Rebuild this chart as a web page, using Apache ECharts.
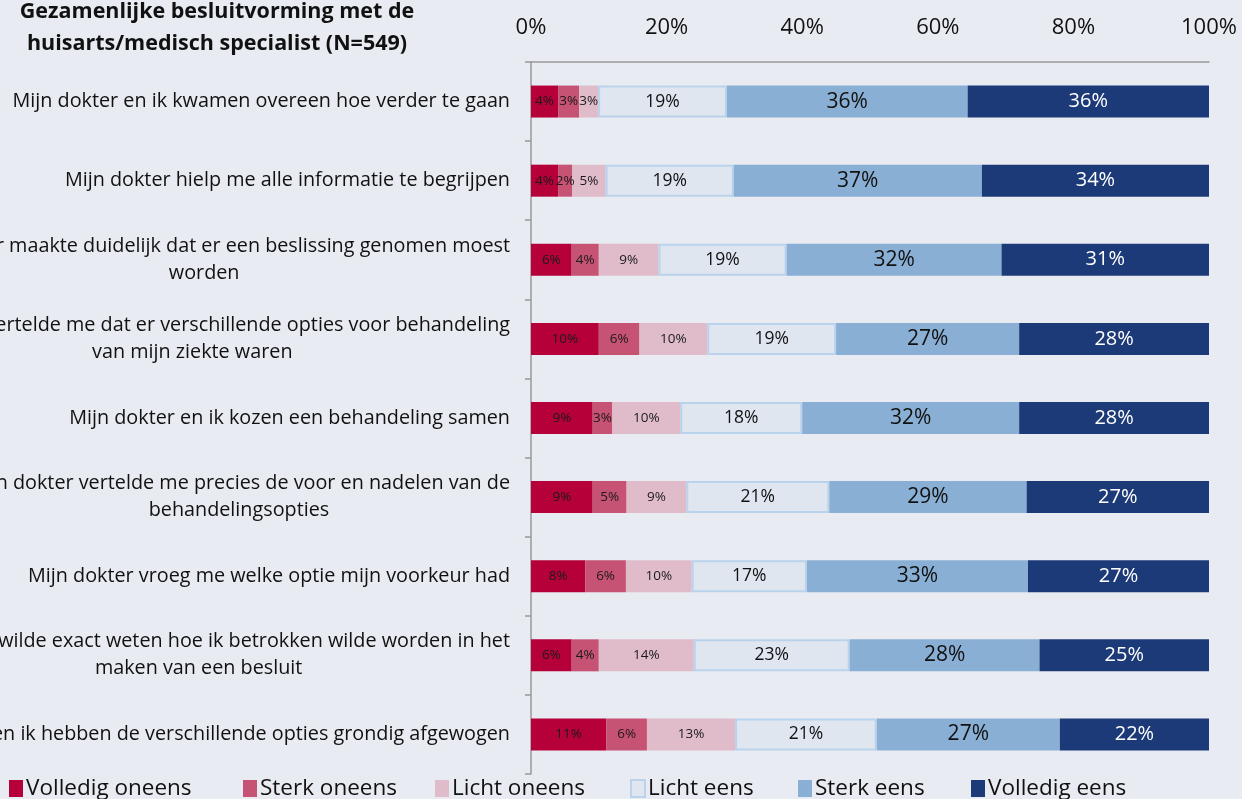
<!DOCTYPE html>
<html>
<head>
<meta charset="utf-8">
<script src="https://cdn.jsdelivr.net/npm/echarts@6/dist/echarts.min.js"></script>
<style>
  html, body { margin: 0; padding: 0; background: #e8ebf2; }
  #chart { width: 1242px; height: 799px; }
</style>
</head>
<body>
<div id="chart"></div>
<script>
// statements, top to bottom
const statements = [
  "Mijn dokter en ik kwamen overeen hoe verder te gaan",
  "Mijn dokter hielp me alle informatie te begrijpen",
  "Mijn dokter maakte duidelijk dat er een beslissing genomen moest\nworden",
  "Mijn dokter vertelde me dat er verschillende opties voor behandeling\nvan mijn ziekte waren",
  "Mijn dokter en ik kozen een behandeling samen",
  "Mijn dokter vertelde me precies de voor en nadelen van de\nbehandelingsopties",
  "Mijn dokter vroeg me welke optie mijn voorkeur had",
  "Mijn dokter wilde exact weten hoe ik betrokken wilde worden in het\nmaken van een besluit",
  "Mijn dokter en ik hebben de verschillende opties grondig afgewogen"
];

const seriesNames = ["Volledig oneens", "Sterk oneens", "Licht oneens", "Licht eens", "Sterk eens", "Volledig eens"];

// percentages per answer, one value per statement
const volledigOneens = [4.0, 4.0, 6.0, 10.0, 9.1, 9.1, 8.0, 6.0, 11.1];
const sterkOneens    = [3.1, 2.1, 4.0, 6.0, 2.9, 5.0, 6.0, 4.0, 6.0];
const lichtOneens    = [2.8, 4.9, 8.8, 10.0, 10.0, 8.8, 9.7, 14.0, 13.0];
const lichtEens      = [19.0, 18.9, 18.9, 19.0, 18.0, 21.1, 17.0, 23.0, 20.9];
const sterkEens      = [35.5, 36.6, 31.7, 27.0, 32.0, 29.1, 32.6, 28.0, 27.0];
const volledigEens   = [35.6, 33.5, 30.6, 28.0, 28.0, 26.9, 26.7, 25.0, 22.0];

const xTicks = [0, 20, 40, 60, 80, 100];

const seriesData = [volledigOneens, sterkOneens, lichtOneens, lichtEens, sterkEens, volledigEens];
const colors = ["#b5003a", "#c65274", "#e0bccb", "#dfe6f0", "#8aafd4", "#1c3a78"];
const labelSizes = [13.5, 13.5, 13.5, 17.5, 21, 20];
const labelColors = ["#1a1a1a", "#1a1a1a", "#1a1a1a", "#111", "#111", "#fff"];

const font = "Open Sans";

const chart = echarts.init(document.getElementById("chart"));

const legendLeft = [4, 238, 430, 625, 793, 966];

chart.setOption({
  backgroundColor: "#e8ebf2",
  animation: false,
  textStyle: { fontFamily: font },
  title: {
    text: "Gezamenlijke besluitvorming met de\nhuisarts/medisch specialist (N=549)",
    left: 212,
    top: -9,
    textAlign: "center",
    textStyle: { fontFamily: font, fontSize: 21.5, fontWeight: "bold", color: "#111", lineHeight: 32 }
  },
  grid: { left: 531, right: 33, top: 62, bottom: 25, outerBoundsMode: "none", containLabel: false },
  xAxis: {
    type: "value",
    position: "top",
    min: 0,
    max: 100,
    interval: 20,
    axisLine: { show: true, lineStyle: { color: "#9a9a9a", width: 1.5 } },
    axisTick: { show: false },
    splitLine: { show: false },
    axisLabel: {
      color: "#111",
      fontSize: 22,
      margin: 23,
      formatter: (v) => (xTicks.includes(v) ? v + "%" : "")
    }
  },
  yAxis: {
    type: "category",
    inverse: true,
    data: statements,
    axisLine: { show: true, lineStyle: { color: "#9a9a9a", width: 1.5 } },
    axisTick: { show: true, length: 6, lineStyle: { color: "#9a9a9a", width: 1.5 } },
    axisLabel: {
      margin: 21,
      formatter: (v) => v.split("\n").map((l) => "{c|" + l + "}").join("\n"),
      rich: { c: { align: "center", fontSize: 19.8, color: "#111", lineHeight: 27, fontFamily: font } }
    }
  },
  legend: seriesNames.map((name, i) => ({
    data: [name],
    left: legendLeft[i],
    bottom: -6,
    icon: "rect",
    itemWidth: 14,
    itemHeight: 17,
    itemGap: 0,
    textStyle: { fontSize: 22.5, color: "#111", padding: [0, 0, 0, -2] }
  })),
  series: seriesNames.map((name, i) => ({
    name: name,
    type: "bar",
    stack: "total",
    barWidth: 32,
    data: seriesData[i],
    itemStyle: i === 3
      ? { color: colors[i], borderColor: "#b9d3ec", borderWidth: 2 }
      : { color: colors[i] },
    label: {
      show: true,
      position: "inside",
      fontSize: labelSizes[i],
      color: labelColors[i],
      fontFamily: font,
      formatter: (p) => Math.round(p.value) + "%"
    }
  }))
});
</script>
</body>
</html>
